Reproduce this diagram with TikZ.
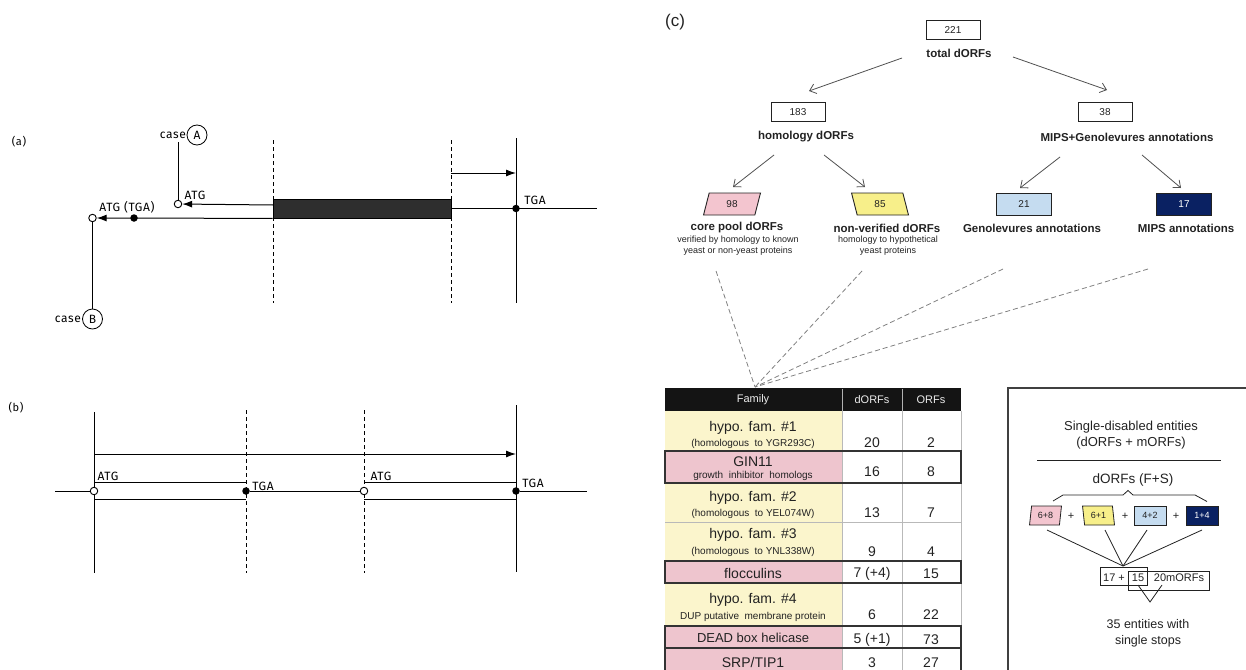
\documentclass[tikz,border=0pt]{standalone}
\usepackage{fontspec}
\setmainfont{Liberation Sans}
\newfontfamily\afont[LetterSpace=5]{Fira Sans}
\usetikzlibrary{arrows.meta,shapes.geometric}
\definecolor{cpink}{HTML}{F3C5CF}
\definecolor{cyellow}{HTML}{F7EF8A}
\definecolor{cblue}{HTML}{C5DCF0}
\definecolor{cnavy}{HTML}{0A2162}
\definecolor{tyellow}{HTML}{FBF5CC}
\definecolor{tpink}{HTML}{EEC5CE}
\definecolor{cgray}{HTML}{505050}
\definecolor{ctext}{HTML}{222222}
\newcommand{\fsz}[1]{\fontsize{#1}{#1}\selectfont}
\begin{document}
\begin{tikzpicture}[x=1pt,y=-1pt,
  every node/.style={inner sep=0pt},
  alab/.style={font=\afont\fsz{12}},
  aline/.style={line width=1pt},
  thinline/.style={line width=0.7pt},
  adash/.style={line width=0.8pt, dash pattern=on 4pt off 3pt},
  odot/.style={circle, draw, fill=white, line width=0.9pt, minimum size=7.5pt},
  fdot/.style={circle, fill=black, minimum size=7.5pt},
  casec/.style={circle, draw, line width=0.8pt, minimum size=20pt, font=\afont\fsz{12}},
  aarr/.style={-{Latex[length=10pt,width=7pt]}},
  tbox/.style={draw=ctext, line width=0.8pt, minimum width=54pt, minimum height=19pt, font=\fsz{10}, text=ctext},
  tlab/.style={font=\bfseries\fsz{11.5}, text=ctext},
  tsub/.style={font=\fsz{9}, text=ctext, align=center},
  tarr/.style={draw=cgray, line width=0.8pt, -{Straight Barb[length=6pt,width=10pt]}},
  cbox/.style={draw=ctext, line width=0.9pt, minimum width=57pt, minimum height=22pt, font=\fsz{10}, text=ctext},
  parl/.style={cbox, trapezium, trapezium stretches=true, trapezium left angle=79, trapezium right angle=101},
  parr/.style={cbox, trapezium, trapezium stretches=true, trapezium left angle=101, trapezium right angle=79},
  tdash/.style={draw=gray, line width=0.8pt, dash pattern=on 5pt off 3pt},
  fam/.style={font=\fsz{14}, text=ctext},
  famsub/.style={font=\fsz{10}, text=ctext},
  num/.style={font=\fsz{14}, text=ctext},
  gridl/.style={draw=gray!55, line width=0.6pt},
  prow/.style={draw=black!80, line width=1.3pt},
  sbox/.style={draw=ctext, line width=0.8pt, minimum width=32pt, minimum height=19pt, font=\fsz{9}, text=ctext},
  sparl/.style={sbox, trapezium, trapezium stretches=true, trapezium left angle=80, trapezium right angle=100},
  sparr/.style={sbox, trapezium, trapezium stretches=true, trapezium left angle=100, trapezium right angle=80},
  rtext/.style={font=\fsz{13}, text=ctext, align=center},
  rline/.style={draw=ctext, line width=0.8pt}
]
\useasboundingbox (0,0) rectangle (1246,669);
\clip (0,0) rectangle (1246,669);

% ================= panel (a) =================
\node[alab, font=\afont\fsz{11}] (la) at (19,142) {(a)};
\node[casec] (cA) at (197,135) {A};
\node[alab, anchor=east] (tA) at (186,135) {case};
\node[odot] (oA) at (178,204) {};
\coordinate (tAb) at (178,142);
\draw[thinline] (tAb) -- (oA);
\node[draw, line width=0.8pt, fill=black!82, minimum width=178pt, minimum height=19pt] (orf) at (362,208.5) {};
\coordinate (aA) at (273,205);
\draw[aline, aarr] (aA) -- (oA);
\node[odot] (oB) at (92.5,218) {};
\node[fdot] (fB) at (134,218) {};
\draw[aline, aarr] (orf.south west) -- (oB);
\node[alab] (tATG1) at (195,195) {ATG};
\node[alab] (tATG2) at (127,207) {ATG (TGA)};
\node[casec] (cB) at (92.5,319) {B};
\node[alab, anchor=east] (tB) at (81,319) {case};
\draw[thinline] (oB) -- (cB);
\coordinate (d1t) at (273,140); \coordinate (d1b) at (273,303);
\coordinate (d2t) at (451,140); \coordinate (d2b) at (451,303);
\coordinate (s1t) at (516,138); \coordinate (s1b) at (516,303);
\draw[adash] (d1t) -- (d1b);
\draw[adash] (d2t) -- (d2b);
\draw[aline] (s1t) -- (s1b);
\coordinate (rend) at (597,208.5);
\draw[aline] (orf.east) -- (rend);
\node[fdot] (fR) at (516,208.5) {};
\node[alab] (tTGA) at (535,200) {TGA};
\coordinate (sa1) at (451,173); \coordinate (sa2) at (516,173);
\draw[aline, aarr] (sa1) -- (sa2);

% ================= panel (b) =================
\node[alab, font=\afont\fsz{11}] (lb) at (16,408) {(b)};
\coordinate (b1t) at (94,412); \coordinate (b1b) at (94,573);
\coordinate (b2t) at (246,410); \coordinate (b2b) at (246,573);
\coordinate (b3t) at (364,410); \coordinate (b3b) at (364,573);
\coordinate (b4t) at (516,405); \coordinate (b4b) at (516,572);
\draw[aline] (b1t) -- (b1b);
\draw[adash] (b2t) -- (b2b);
\draw[adash] (b3t) -- (b3b);
\draw[aline] (b4t) -- (b4b);
\coordinate (la1) at (94,454); \coordinate (la2) at (516,454);
\draw[aline, aarr] (la1) -- (la2);
% boxes
\draw[aline] (94,482) -- (246,482) (94,499) -- (246,499);
\draw[aline] (364,482) -- (516,482) (364,499) -- (516,499);
\node[odot] (bo1) at (94,491) {};
\node[fdot] (bf1) at (246,491) {};
\node[odot] (bo2) at (364,491) {};
\node[fdot] (bf2) at (516,491) {};
\coordinate (bl0) at (55,491); \coordinate (br0) at (587,491);
\draw[aline] (bl0) -- (bo1);
\draw[aline] (bf1) -- (bo2);
\draw[aline] (bf2) -- (br0);
\node[alab] (bATG1) at (108,476) {ATG};
\node[alab] (bTGA1) at (263,486) {TGA};
\node[alab] (bATG2) at (381,476) {ATG};
\node[alab] (bTGA2) at (533,483) {TGA};

% ================= panel (c) tree =================
\node[font=\fsz{17}, text=ctext] (lc) at (675,22) {(c)};
\node[tbox] (n221) at (953,30) {221};
\node[tlab] (t221) at (959,53) {total dORFs};
\node[tbox] (n183) at (798,112) {183};
\node[tlab] (t183) at (806,137) {homology dORFs};
\node[tbox] (n38) at (1105,112) {38};
\node[tlab] (t38) at (1127,137) {MIPS+Genolevures annotations};
\coordinate (a1s) at (902,58); \coordinate (a1e) at (809,91);
\coordinate (a2s) at (1013,57); \coordinate (a2e) at (1107,90);
\draw[tarr] (a1s) -- (a1e);
\draw[tarr] (a2s) -- (a2e);
\coordinate (a3s) at (774,155); \coordinate (a3e) at (733,187);
\coordinate (a4s) at (824,155); \coordinate (a4e) at (865,187);
\coordinate (a5s) at (1060,157); \coordinate (a5e) at (1020,188);
\coordinate (a6s) at (1142,155); \coordinate (a6e) at (1181,188);
\draw[tarr] (a3s) -- (a3e);
\draw[tarr] (a4s) -- (a4e);
\draw[tarr] (a5s) -- (a5e);
\draw[tarr] (a6s) -- (a6e);
\node[parl, fill=cpink] (n98) at (732,204) {98};
\node[parr, fill=cyellow] (n85) at (880,204) {85};
\node[cbox, fill=cblue, minimum width=55pt] (n21) at (1024,204) {21};
\node[cbox, fill=cnavy, text=white, minimum width=55pt] (n17) at (1184,204) {17};
\node[tlab] (t98) at (737,228) {core pool dORFs};
\node[tsub] (s98) at (738,245.5) {verified by homology to known\\[2pt]yeast or non-yeast proteins};
\node[tlab] (t85) at (887,228) {non-verified dORFs};
\node[tsub] (s85) at (888,245.5) {homology to hypothetical\\[2pt]yeast proteins};
\node[tlab] (t21) at (1032,228) {Genolevures annotations};
\node[tlab] (t17) at (1186,228) {MIPS annotations};
% dashed connectors to table
\coordinate (conv) at (755,387);
\coordinate (q1) at (716,271);
\coordinate (q2) at (862,271);
\coordinate (q3) at (1003,269);
\coordinate (q4) at (1148,269);
\draw[tdash] (q1) -- (conv);
\draw[tdash] (q2) -- (conv);
\draw[tdash] (q3) -- (conv);
\draw[tdash] (q4) -- (conv);

% ================= table =================
\fill[black!92] (665,388) rectangle (961,411);
\draw[draw=gray!60, line width=0.6pt] (842,389) -- (842,411) (902,389) -- (902,411);
\node[font=\fsz{11}, text=gray!15] (hF) at (753,400) {Family};
\node[font=\fsz{11}, text=gray!15] (hD) at (872,400) {dORFs};
\node[font=\fsz{11}, text=gray!15] (hO) at (931,400) {ORFs};
\fill[tyellow] (665,411) rectangle (842,451);
\fill[tpink] (665,451) rectangle (842,483);
\fill[tyellow] (665,483) rectangle (842,522);
\fill[tyellow] (665,522) rectangle (842,561);
\fill[tpink] (665,561) rectangle (842,583);
\fill[tyellow] (665,583) rectangle (842,626);
\fill[tpink] (665,626) rectangle (842,648);
\fill[tpink] (665,648) rectangle (842,675);
\draw[gridl] (842,411) -- (842,675) (902,411) -- (902,675) (961,411) -- (961,675);
\draw[gridl] (665,522) -- (961,522);
\draw[prow] (665,451) rectangle (961,483);
\draw[prow] (665,561) rectangle (961,583);
\draw[prow] (665,626) rectangle (961,648);
\draw[prow] (665,648) rectangle (961,675);
% row texts
\node[fam] (r1f) at (753,428) {hypo. fam. \#1};
\node[famsub] (r1s) at (753,444) {(homologous\ \ to YGR293C)};
\node[num] (r1d) at (872,443) {20};
\node[num] (r1o) at (931,443) {2};
\node[fam] (r2f) at (753,462) {GIN11};
\node[famsub] (r2s) at (753,476) {growth\ \ inhibitor\ \ homologs};
\node[num] (r2d) at (872,472) {16};
\node[num] (r2o) at (931,472) {8};
\node[fam] (r3f) at (753,498) {hypo. fam. \#2};
\node[famsub] (r3s) at (753,514) {(homologous\ \ to YEL074W)};
\node[num] (r3d) at (872,513) {13};
\node[num] (r3o) at (931,513) {7};
\node[fam] (r4f) at (753,535) {hypo. fam. \#3};
\node[famsub] (r4s) at (753,552) {(homologous\ \ to YNL338W)};
\node[num] (r4d) at (872,552) {9};
\node[num] (r4o) at (931,552) {4};
\node[fam] (r5f) at (753,573) {flocculins};
\node[num] (r5d) at (872,574) {7 (+4)};
\node[num] (r5o) at (931,574) {15};
\node[fam] (r6f) at (753,600) {hypo. fam. \#4};
\node[famsub] (r6s) at (753,617) {DUP putative\ \ membrane protein};
\node[num] (r6d) at (872,615) {6};
\node[num] (r6o) at (931,615) {22};
\node[fam, font=\fsz{13}] (r7f) at (753,638) {DEAD box helicase};
\node[num] (r7d) at (872,640) {5 (+1)};
\node[num] (r7o) at (931,640) {73};
\node[fam] (r8f) at (753,662) {SRP/TIP1};
\node[num] (r8d) at (872,663) {3};
\node[num] (r8o) at (931,663) {27};

% ================= right box =================
\coordinate (rb1) at (1250,388); \coordinate (rb2) at (1008,388); \coordinate (rb3) at (1008,672);
\draw[draw=black!75, line width=1.2pt] (rb1) -- (rb2) -- (rb3);
\node[rtext] (rt1) at (1131,435) {Single-disabled entities\\[3pt](dORFs + mORFs)};
\coordinate (hl1) at (1037,460); \coordinate (hl2) at (1221,460);
\draw[draw=ctext, line width=1pt] (hl1) -- (hl2);
\node[rtext, font=\fsz{13.5}] (rt2) at (1133,480) {dORFs (F+S)};
\draw[rline] (1053,501) -- (1063,495) -- (1123,495) -- (1128,490.5) -- (1133,495) -- (1195,495) -- (1207,501.5);
\node[sparl, fill=cpink] (b68) at (1045.5,515.5) {6+8};
\node[font=\fsz{11}, text=ctext] (p1) at (1071,516) {+};
\node[sparr, fill=cyellow] (b61) at (1098.5,515.5) {6+1};
\node[font=\fsz{11}, text=ctext] (p2) at (1125,516) {+};
\node[sbox, fill=cblue] (b42) at (1150,515.5) {4+2};
\node[font=\fsz{11}, text=ctext] (p3) at (1176,516) {+};
\node[sbox, fill=cnavy, text=white] (b14) at (1202,515.5) {1+4};
\coordinate (cv) at (1123,566);
\coordinate (l1) at (1047,530); \coordinate (l2) at (1105,530);
\coordinate (l3) at (1147,530); \coordinate (l4) at (1202,530);
\draw[rline] (l1) -- (cv);
\draw[rline] (l2) -- (cv);
\draw[rline] (l3) -- (cv);
\draw[rline] (l4) -- (cv);
\draw[rline] (1100,567) rectangle (1147,585);
\draw[rline] (1128,571) rectangle (1209,590);
\node[font=\fsz{11}, text=ctext] (x17) at (1114,578) {17 +};
\node[font=\fsz{11}, text=ctext] (x15) at (1138,578) {15};
\node[font=\fsz{11}, text=ctext] (x20) at (1179,578) {20mORFs};
\coordinate (v1) at (1138,585); \coordinate (v2) at (1150,602); \coordinate (v3) at (1162,585);
\draw[rline] (v1) -- (v2) -- (v3);
\node[rtext, font=\fsz{12.5}] (rt3) at (1148,633.5) {35 entities with\\[3pt]single stops};
\end{tikzpicture}
\end{document}
